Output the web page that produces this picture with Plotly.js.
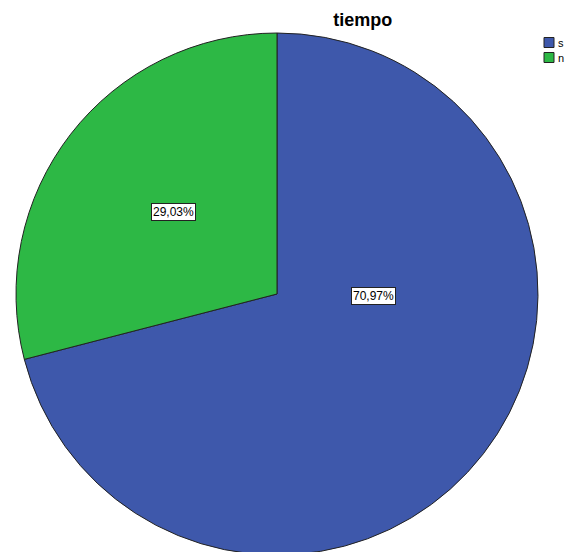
<!DOCTYPE html>
<html>
<head>
<meta charset="utf-8">
<script src="https://cdn.plot.ly/plotly-3.0.1.min.js"></script>
<style>
html,body{margin:0;padding:0;overflow:hidden;background:#fff;}
#chart{width:566px;height:600px;}
</style>
</head>
<body>
<div id="chart"></div>
<script>
const categories = ["s", "n"];
const percentages = [70.97, 29.03];
const colors = ["#3e58ab", "#2db845"];
const chartTitle = "tiempo";

function fmt(v) { return v.toFixed(2).replace(".", ",") + "%"; }

const trace = {
  type: "pie",
  labels: categories,
  values: percentages,
  sort: false,
  direction: "clockwise",
  rotation: 0,
  textinfo: "none",
  hoverinfo: "label+percent",
  marker: { colors: colors, line: { color: "#222222", width: 1 } },
  domain: { x: [0, 1], y: [0, 1] }
};

// label boxes: positions relative to the pie (paper coords)
const labelPos = [[0.684, 0.496], [0.301, 0.657]];
const annotations = categories.map((c, i) => ({
  xref: "paper", yref: "paper",
  x: labelPos[i][0], y: labelPos[i][1],
  xanchor: "center", yanchor: "middle",
  text: fmt(percentages[i]),
  showarrow: false,
  font: { family: "Liberation Sans, Arial, sans-serif", size: 12, color: "#000" },
  bgcolor: "#ffffff",
  bordercolor: "#222222",
  borderwidth: 1,
  borderpad: 1
}));

const layout = {
  width: 566, height: 600,
  margin: { l: 16, r: 28, t: 33, b: 45, autoexpand: false },
  paper_bgcolor: "#ffffff",
  title: {
    text: "<b>" + chartTitle + "</b>",
    font: { family: "Liberation Sans, Arial, sans-serif", size: 18, color: "#000" },
    xref: "container", yref: "container",
    x: 0.641, xanchor: "center",
    y: 1 - 20 / 600, yanchor: "middle"
  },
  showlegend: true,
  legend: {
    xref: "container", yref: "container",
    x: 529 / 566, xanchor: "left",
    y: 1 - 28 / 600, yanchor: "top",
    font: { family: "Liberation Sans, Arial, sans-serif", size: 11, color: "#000" },
    itemwidth: 30,
    bgcolor: "rgba(0,0,0,0)"
  },
  annotations: annotations
};

Plotly.newPlot("chart", [trace], layout, { displayModeBar: false, staticPlot: true }).then(function (gd) {
  // compact the legend: tighter text offset and row spacing
  const items = gd.querySelectorAll(".legend .traces");
  let y0 = null;
  items.forEach(function (g, i) {
    const t = g.getAttribute("transform") || "";
    const m = t.match(/translate\(([-\d.]+)[ ,]+([-\d.]+)\)/);
    if (m) {
      if (y0 === null) y0 = parseFloat(m[2]);
      g.setAttribute("transform", "translate(" + m[1] + "," + (y0 + i * 15) + ")");
    }
    const txt = g.querySelector(".legendtext");
    if (txt) txt.setAttribute("x", 29);
    const pts = g.querySelectorAll(".legendpoints path");
    pts.forEach(function (p) { p.setAttribute("d", "M5,5H-5V-5H5Z"); });
  });
});
</script>
</body>
</html>
